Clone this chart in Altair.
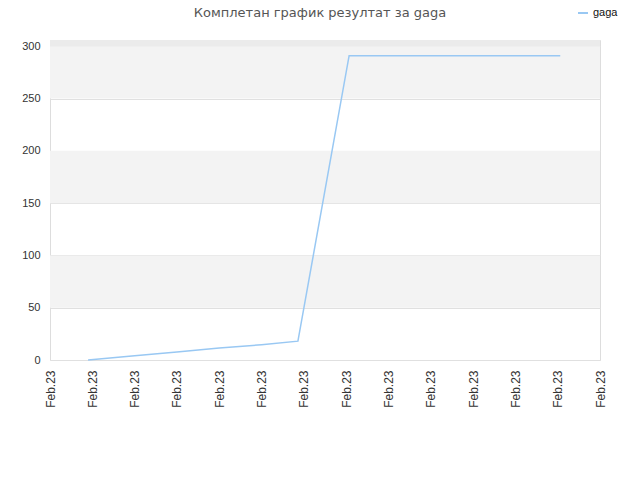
import altair as alt
import pandas as pd

title = "Комплетан график резултат за gaga"
series_name = "gaga"
x_pos = [0.9, 2.0, 3.0, 4.0, 5.0, 5.86, 7.07, 12.06]
y_val = [0, 4, 7.6, 11.5, 14.6, 18, 291, 291]
tick_positions = list(range(14))
tick_label = "Feb.23"
y_ticks = [0, 50, 100, 150, 200, 250, 300]
band_lo = [50, 150, 250]
band_hi = [100, 200, 300]
y_max = 306

line_df = pd.DataFrame({"x": x_pos, "y": y_val, "s": [series_name] * len(x_pos)})
band_df = pd.DataFrame({"lo": band_lo, "hi": band_hi})
top_df = pd.DataFrame({"lo": [300], "hi": [y_max]})
title_df = pd.DataFrame({"t": [title]})

xs = alt.Scale(domain=[0, 13], nice=False, zero=False)
ys = alt.Scale(domain=[0, y_max], nice=False)

y_axis = alt.Axis(values=y_ticks, ticks=False, domain=False,
                  gridColor="#e0e0e0", labelPadding=10,
                  labelFont="Liberation Sans", labelFontSize=11, labelColor="#333")

bands = alt.Chart(band_df).mark_rect(color="#f3f3f3").encode(
    x=alt.value(0), x2=alt.value(550),
    y=alt.Y("lo:Q", scale=ys, axis=y_axis, title=None), y2="hi:Q")
top = alt.Chart(top_df).mark_rect(color="#ebebeb").encode(
    x=alt.value(0), x2=alt.value(550),
    y=alt.Y("lo:Q", scale=ys, axis=y_axis, title=None), y2="hi:Q")

line = alt.Chart(line_df).mark_line(strokeWidth=1.5).encode(
    x=alt.X("x:Q", scale=xs, title=None,
            axis=alt.Axis(values=tick_positions, labelExpr=f"'{tick_label}'",
                          labelAngle=270, labelAlign="right", labelBaseline="middle",
                          labelPadding=10, ticks=False, domain=False, grid=False,
                          labelFont="Liberation Sans", labelFontSize=12, labelColor="#333")),
    y=alt.Y("y:Q", scale=ys, title=None, axis=y_axis),
    color=alt.Color("s:N", scale=alt.Scale(range=["#99c8f3"]), title=None,
                    legend=alt.Legend(orient="none", legendX=527, legendY=-33,
                                      symbolType="stroke", symbolSize=100, symbolStrokeWidth=2,
                                      labelFont="Liberation Sans", labelFontSize=11,
                                      labelColor="#111")),
)

title_mark = alt.Chart(title_df).mark_text(
    font="DejaVu Sans", fontSize=13, color="#555", align="center", baseline="middle"
).encode(x=alt.value(270), y=alt.value(-27), text="t:N")

chart = alt.layer(top, bands, line, title_mark).properties(
    width=550, height=320,
    autosize=alt.AutoSizeParams(type="none"),
    padding={"left": 42, "top": 32, "right": 32, "bottom": 100},
).configure_view(stroke="#dddddd", strokeWidth=1)

chart.save("out.html", embed_options={"renderer": "svg", "actions": False})
